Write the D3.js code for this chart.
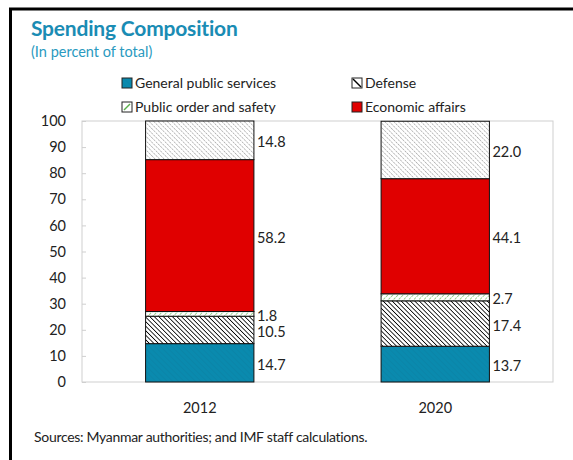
<!DOCTYPE html>
<html lang="en">
<head>
<meta charset="UTF-8" />
<title>Spending Composition</title>
<script src="https://d3js.org/d3.v7.min.js"></script>
<style>
  body { margin: 0; padding: 0; background: #fff; }
  svg { display: block; font-family: Lato, "Noto Sans", sans-serif; }
</style>
</head>
<body>
<div id="chart"></div>
<script>
  // Data
  const years = ["2012", "2020"];
  const categories = ["General public services", "Defense", "Public order and safety", "Economic affairs", "Other"];
  const values2012 = [14.7, 10.5, 1.8, 58.2, 14.8];
  const values2020 = [13.7, 17.4, 2.7, 44.1, 22.0];
  const yTicks = [0, 10, 20, 30, 40, 50, 60, 70, 80, 90, 100];
  const legendItems = ["General public services", "Defense", "Public order and safety", "Economic affairs"];

  const width = 573, height = 460;
  const plot = { left: 82, right: 553, top: 121, bottom: 382 };

  const rows = years.map((y, i) => {
    const vals = i === 0 ? values2012 : values2020;
    const r = { year: y };
    categories.forEach((c, j) => r[c] = vals[j]);
    return r;
  });

  const svg = d3.select("#chart").append("svg")
    .attr("width", width).attr("height", height);

  const defs = svg.append("defs");

  // hatch patterns
  function hatch(id, color, sw, dir, size, dash) {
    const p = defs.append("pattern")
      .attr("id", id)
      .attr("patternUnits", "userSpaceOnUse")
      .attr("width", size).attr("height", size)
      .attr("patternTransform", `rotate(${dir})`);
    p.append("rect").attr("width", size).attr("height", size).attr("fill", "#fff");
    const l = p.append("line")
      .attr("x1", 0).attr("y1", 0).attr("x2", 0).attr("y2", size)
      .attr("stroke", color).attr("stroke-width", sw);
    if (dash) l.attr("stroke-dasharray", dash);
  }
  hatch("defHatch", "#000", 1.6, -45, 3.2);
  hatch("othHatch", "#8f8f8f", 1.1, -45, 3.2, "1.4,0.8");
  hatch("pubHatch", "#6dbb5a", 1.3, 45, 3.6, "1.8,1");

  const blue = defs.append("pattern")
    .attr("id", "gpsFill")
    .attr("patternUnits", "userSpaceOnUse")
    .attr("width", 4).attr("height", 4)
    .attr("patternTransform", "rotate(-45)");
  blue.append("rect").attr("width", 4).attr("height", 4).attr("fill", "#0a8aae");
  blue.append("line").attr("x1", 0).attr("y1", 0).attr("x2", 0).attr("y2", 4)
    .attr("stroke", "#0b80a2").attr("stroke-width", 1);

  const fills = {
    "General public services": "url(#gpsFill)",
    "Defense": "url(#defHatch)",
    "Public order and safety": "url(#pubHatch)",
    "Economic affairs": "#e00000",
    "Other": "url(#othHatch)"
  };

  // frame lines (top and left)
  svg.append("line").attr("x1", 9).attr("x2", width).attr("y1", 9).attr("y2", 9)
    .attr("stroke", "#000").attr("stroke-width", 3);
  svg.append("line").attr("x1", 10.5).attr("x2", 10.5).attr("y1", 8).attr("y2", height)
    .attr("stroke", "#000").attr("stroke-width", 3);

  // title
  svg.append("text").attr("x", 31).attr("y", 36)
    .attr("fill", "#1a8cb4").attr("font-size", 21).attr("font-weight", "bold")
    .attr("letter-spacing", -0.2)
    .text("Spending Composition");
  svg.append("text").attr("x", 31).attr("y", 57)
    .attr("fill", "#2a9ac0").attr("font-size", 14.5)
    .text("(In percent of total)");

  // scales
  const x = d3.scaleBand().domain(years).range([plot.left, plot.right]).paddingInner(0.54).paddingOuter(0.27);
  const y = d3.scaleLinear().domain([0, 100]).range([plot.bottom, plot.top]);

  // plot frame
  svg.append("rect")
    .attr("x", plot.left).attr("y", plot.top)
    .attr("width", plot.right - plot.left).attr("height", plot.bottom - plot.top)
    .attr("fill", "none").attr("stroke", "#cfcfcf").attr("stroke-width", 1);

  // y axis
  const yAxis = svg.append("g").attr("transform", `translate(${plot.left},0)`)
    .call(d3.axisRight(y).tickValues(yTicks).tickSize(4).tickFormat(d3.format("d")));
  yAxis.select(".domain").remove();
  yAxis.selectAll("line").attr("stroke", "#cfcfcf");
  yAxis.selectAll("text").attr("text-anchor", "end").attr("x", -16)
    .attr("font-size", 14.5).attr("fill", "#222").attr("font-family", "Lato, sans-serif");

  // x axis labels
  svg.append("g").selectAll("text").data(years).join("text")
    .attr("x", d => x(d) + x.bandwidth() / 2).attr("y", 413)
    .attr("text-anchor", "middle").attr("font-size", 14.5).attr("fill", "#222")
    .text(d => d);

  // stacked bars
  const series = d3.stack().keys(categories)(rows);
  const segs = series.flatMap(s => s.map(d => ({ key: s.key, y0: d[0], y1: d[1], year: d.data.year })));

  svg.append("g").selectAll("rect").data(segs).join("rect")
    .attr("x", d => x(d.year)).attr("width", x.bandwidth())
    .attr("y", d => y(d.y1)).attr("height", d => y(d.y0) - y(d.y1))
    .attr("fill", d => fills[d.key])
    .attr("stroke", "#111").attr("stroke-width", 1);

  svg.append("g").selectAll("text").data(segs).join("text")
    .attr("x", d => x(d.year) + x.bandwidth() + 3)
    .attr("y", d => y((d.y0 + d.y1) / 2) + 7)
    .attr("font-size", 14.5).attr("fill", "#222")
    .text(d => d3.format(".1f")(d.y1 - d.y0));

  // legend
  const legPos = [[122, 83], [352, 83], [122, 107], [352, 107]];
  const leg = svg.append("g").selectAll("g").data(legendItems).join("g")
    .attr("transform", (d, i) => `translate(${legPos[i][0]},${legPos[i][1]})`);
  leg.append("rect").attr("x", 0).attr("y", -5).attr("width", 10).attr("height", 10)
    .attr("fill", d => (d === "Defense" || d === "Public order and safety") ? "#fff" : fills[d])
    .attr("stroke", "#222").attr("stroke-width", 1);
  leg.filter(d => d === "Defense").append("line")
    .attr("x1", 1).attr("y1", -4).attr("x2", 9).attr("y2", 4)
    .attr("stroke", "#000").attr("stroke-width", 1.5);
  leg.filter(d => d === "Public order and safety").append("line")
    .attr("x1", 2).attr("y1", 3).attr("x2", 8).attr("y2", -3)
    .attr("stroke", "#5bb04a").attr("stroke-width", 1.5);
  leg.append("text").attr("x", 13).attr("y", 5)
    .attr("font-size", 14).attr("fill", "#222").text(d => d);

  // source
  svg.append("text").attr("x", 34).attr("y", 442)
    .attr("font-size", 14).attr("fill", "#222").attr("letter-spacing", -0.3)
    .text("Sources: Myanmar authorities; and IMF staff calculations.");
</script>
</body>
</html>
